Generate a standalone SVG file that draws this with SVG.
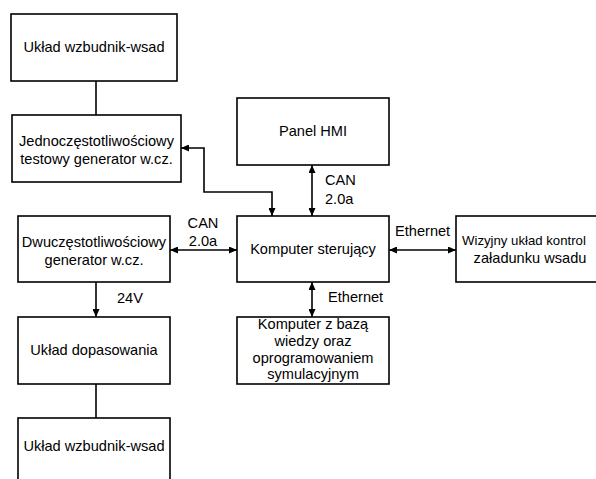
<svg xmlns="http://www.w3.org/2000/svg" width="596" height="479" viewBox="0 0 596 479">
  <style>
    .box { fill: #ffffff; stroke: #000000; stroke-width: 1.6; }
    .lbl { font-family: "Liberation Sans", Arial, sans-serif; font-size: 14.6px; fill: #000000; }
    .c { text-anchor: middle; }
    .wire { fill: none; stroke: #000000; stroke-width: 1.6; }
  </style>
  <defs>
    <marker id="ah" viewBox="0 0 10 10" refX="10" refY="5" markerWidth="8" markerHeight="7" orient="auto-start-reverse" markerUnits="userSpaceOnUse" preserveAspectRatio="none">
      <path d="M0,0 L10,5 L0,10 z" fill="#000000"/>
    </marker>
  </defs>
  <rect x="0" y="0" width="596" height="479" fill="#ffffff"/>

  <g id="connectors">
    <line class="wire" x1="96" y1="81" x2="96" y2="115"/>
    <polyline class="wire" points="272,216 272,192 204,192 204,148 181,148" marker-start="url(#ah)" marker-end="url(#ah)"/>
    <line class="wire" x1="312" y1="165" x2="312" y2="216" marker-start="url(#ah)" marker-end="url(#ah)"/>
    <line class="wire" x1="170" y1="250" x2="237" y2="250" marker-start="url(#ah)" marker-end="url(#ah)"/>
    <line class="wire" x1="389" y1="250" x2="456" y2="250" marker-start="url(#ah)" marker-end="url(#ah)"/>
    <line class="wire" x1="312" y1="282" x2="312" y2="317" marker-start="url(#ah)" marker-end="url(#ah)"/>
    <line class="wire" x1="96" y1="282" x2="96" y2="317" marker-end="url(#ah)"/>
    <line class="wire" x1="96" y1="384" x2="96" y2="418"/>
    <text class="lbl" x="325" y="185">CAN</text>
    <text class="lbl" x="325" y="204">2.0a</text>
    <text class="lbl c" x="203" y="228">CAN</text>
    <text class="lbl c" x="203" y="246">2.0a</text>
    <text class="lbl" x="395" y="236">Ethernet</text>
    <text class="lbl" x="328" y="302">Ethernet</text>
    <text class="lbl" x="117" y="303">24V</text>
  </g>

  <g id="wzbudnik-top">
    <rect class="box" x="11" y="14" width="166" height="67"/>
    <text class="lbl c" x="94" y="52">Układ wzbudnik-wsad</text>
  </g>

  <g id="generator-jedno">
    <rect class="box" x="12" y="115" width="169" height="67"/>
    <text class="lbl c" x="96.5" y="145.5">Jednoczęstotliwościowy</text>
    <text class="lbl c" x="96.5" y="163.5">testowy generator w.cz.</text>
  </g>

  <g id="panel-hmi">
    <rect class="box" x="237" y="98" width="152" height="67"/>
    <text class="lbl c" x="313" y="136">Panel HMI</text>
  </g>

  <g id="generator-dwu">
    <rect class="box" x="18" y="216" width="152" height="66"/>
    <text class="lbl c" x="94" y="246.5">Dwuczęstotliwościowy</text>
    <text class="lbl c" x="94" y="264.5">generator w.cz.</text>
  </g>

  <g id="komputer-sterujacy">
    <rect class="box" x="237" y="216" width="152" height="66"/>
    <text class="lbl c" x="313" y="254">Komputer sterujący</text>
  </g>

  <g id="wizyjny">
    <rect class="box" x="456" y="216" width="160" height="66"/>
    <text class="lbl" x="462" y="245" style="font-size:13.2px">Wizyjny układ kontrol</text>
    <text class="lbl c" x="530" y="263">załadunku wsadu</text>
  </g>

  <g id="komputer-baza">
    <rect class="box" x="237" y="317" width="152" height="67"/>
    <text class="lbl c" x="313" y="328.5">Komputer z bazą</text>
    <text class="lbl c" x="313" y="345.5">wiedzy oraz</text>
    <text class="lbl c" x="313" y="362.5">oprogramowaniem</text>
    <text class="lbl c" x="313" y="379">symulacyjnym</text>
  </g>

  <g id="dopasowanie">
    <rect class="box" x="18" y="317" width="152" height="67"/>
    <text class="lbl c" x="94" y="355">Układ dopasowania</text>
  </g>

  <g id="wzbudnik-bottom">
    <rect class="box" x="18" y="418" width="152" height="70"/>
    <text class="lbl c" x="94" y="451">Układ wzbudnik-wsad</text>
  </g>
</svg>
